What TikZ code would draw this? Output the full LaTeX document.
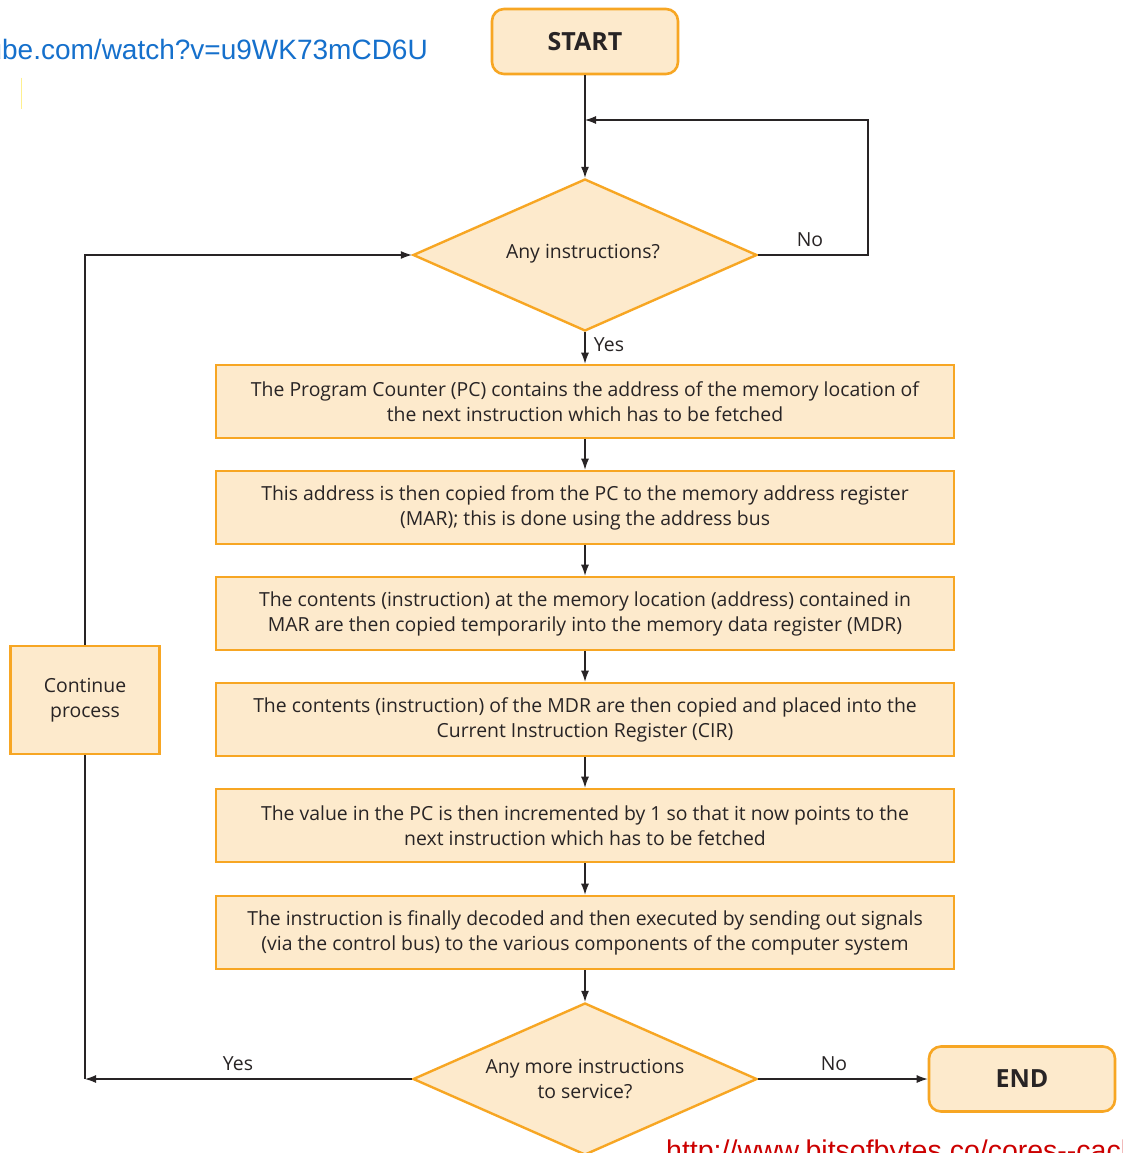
\documentclass[tikz,border=0pt]{standalone}
\usepackage{fontspec}
\setmainfont{Open Sans}
\newfontfamily\urlfont{Liberation Sans}
\usetikzlibrary{shapes.geometric,arrows.meta}
\definecolor{obord}{RGB}{247,166,35}
\definecolor{ofill}{RGB}{253,234,204}
\definecolor{txt}{RGB}{40,36,37}
\definecolor{urlblue}{RGB}{21,112,204}
\definecolor{urlred}{RGB}{204,0,0}
\tikzset{
  stepbox/.style={draw=obord, fill=ofill, line width=2.6pt, minimum width=738pt, minimum height=73pt, inner sep=0pt, align=center, text=txt, font=\fontsize{19.4}{25}\selectfont},
  termbox/.style={draw=obord, fill=ofill, line width=2.6pt, rounded corners=12pt, minimum width=186pt, minimum height=65pt, text=txt, font=\fontsize{25}{30}\selectfont\bfseries},
  decbox/.style={diamond, draw=obord, fill=ofill, line width=2.4pt, minimum width=344pt, minimum height=152pt, inner sep=0pt},
  dectext/.style={align=center, text=txt, inner sep=0pt, font=\fontsize{19.4}{25}\selectfont},
  conn/.style={draw=txt, line width=1.1pt},
  arr/.style={conn, -{Latex[length=11pt,width=8pt]}},
  lbl/.style={text=txt, font=\fontsize{19.4}{24}\selectfont, inner sep=0pt},
}
\begin{document}
\begin{tikzpicture}[x=1pt,y=-1pt]
\useasboundingbox (0,0) rectangle (1123,1153);
\clip (0,0) rectangle (1123,1153);
\fill[white] (0,0) rectangle (1123,1153);

% URLs
\node[anchor=base east, inner sep=0pt, text=urlblue, font=\urlfont\fontsize{28}{30}\selectfont] (url1) at (428,60) {https://www.youtube.com/watch?v=u9WK73mCD6U};
\draw[color=ofill!70!yellow, line width=1pt] (21,78) -- (21,109);
\node[anchor=base west, inner sep=0pt, text=urlred, font=\urlfont\fontsize{28.5}{30}\selectfont] (url2) at (666,1160) {http://www.bitsofbytes.co/cores--cache-memory};

% nodes
\node[termbox] (start) at (585,41.5) {START};
\node[decbox] (d1) at (585,255) {};
\node[dectext] (d1t) at (583,254) {Any instructions?};
\node[stepbox] (b1) at (585,401.5) {The Program Counter (PC) contains the address of the memory location of\\the next instruction which has to be fetched};
\node[stepbox] (b2) at (585,507.5) {This address is then copied from the PC to the memory address register\\(MAR); this is done using the address bus};
\node[stepbox] (b3) at (585,613.5) {The contents (instruction) at the memory location (address) contained in\\MAR are then copied temporarily into the memory data register (MDR)};
\node[stepbox] (b4) at (585,719.5) {The contents (instruction) of the MDR are then copied and placed into the\\Current Instruction Register (CIR)};
\node[stepbox] (b5) at (585,825.5) {The value in the PC is then incremented by 1 so that it now points to the\\next instruction which has to be fetched};
\node[stepbox] (b6) at (585,932.5) {The instruction is finally decoded and then executed by sending out signals\\(via the control bus) to the various components of the computer system};
\node[decbox] (d2) at (585,1079) {};
\node[dectext] (d2t) at (585,1079) {Any more instructions\\to service?};
\node[termbox] (end) at (1022,1079) {END};
\node[stepbox, minimum width=149pt, minimum height=108pt] (cp) at (85,700) {Continue\\process};

\coordinate (loopA) at (868,255);
\coordinate (loopB) at (585,120);
\coordinate (yesC) at (cp.south |- d2.west);

% connectors
\draw[arr] (start.south) -- (d1.north);
\draw[arr] (d1.east) -- (loopA) |- (loopB);
\draw[arr] (d1.south) -- (b1.north);
\draw[arr] (b1.south) -- (b2.north);
\draw[arr] (b2.south) -- (b3.north);
\draw[arr] (b3.south) -- (b4.north);
\draw[arr] (b4.south) -- (b5.north);
\draw[arr] (b5.south) -- (b6.north);
\draw[arr] (b6.south) -- (d2.north);
\draw[arr] (d2.east) -- (end.west);
\draw[arr] (d2.west) -- (yesC);
\draw[conn] (yesC) -- (cp.south);
\draw[arr] (cp.north) |- (d1.west);

% labels
\node[lbl] (noA) at (810,240) {No};
\node[lbl] (yesA) at (609,345) {Yes};
\node[lbl] (noB) at (834,1064) {No};
\node[lbl] (yesB) at (238,1064) {Yes};
\end{tikzpicture}
\end{document}
